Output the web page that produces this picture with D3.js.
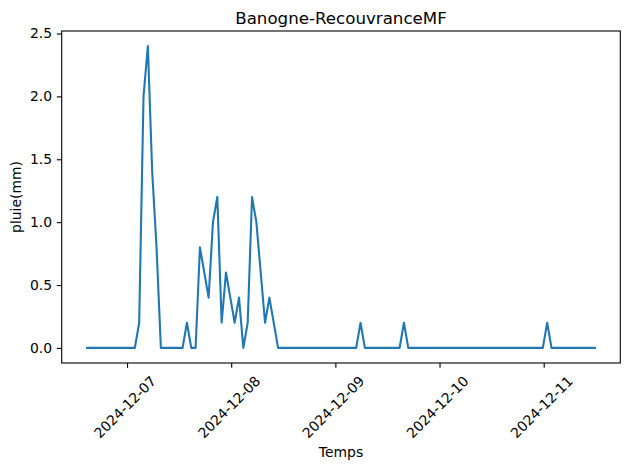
<!DOCTYPE html>
<html>
<head>
<meta charset="utf-8">
<script src="https://cdn.jsdelivr.net/npm/d3@7"></script>
<style>
  body { margin: 0; background: #fff; }
  svg { display: block; font-family: 'DejaVu Sans', sans-serif; }
</style>
</head>
<body>
<div id="chart"></div>
<script>
// hourly rain (mm), first reading 2024-12-06 14:48 UTC
const startTime = '2024-12-06T14:48:00Z';
const stepHours = 1;
const rain = [
  0, 0, 0, 0, 0, 0, 0, 0, 0, 0, 0, 0,
  0.2, 2.0, 2.4, 1.4, 0.8, 0,
  0, 0, 0, 0, 0,
  0.2, 0, 0,
  0.8, 0.6, 0.4, 1.0, 1.2, 0.2, 0.6, 0.4, 0.2, 0.4, 0,
  0.2, 1.2, 1.0, 0.6, 0.2, 0.4, 0.2, 0,
  0, 0, 0, 0, 0, 0, 0, 0, 0, 0, 0, 0, 0, 0, 0, 0, 0, 0,
  0.2,
  0, 0, 0, 0, 0, 0, 0, 0, 0,
  0.2,
  0, 0, 0, 0, 0, 0, 0, 0, 0, 0, 0, 0, 0, 0, 0, 0,
  0, 0, 0, 0, 0, 0, 0, 0, 0, 0, 0, 0, 0, 0, 0, 0,
  0.2,
  0, 0, 0, 0, 0, 0, 0, 0, 0, 0, 0
];
const xTicks = ['2024-12-07', '2024-12-08', '2024-12-09', '2024-12-10', '2024-12-11'];
const yTicks = [0, 0.5, 1.0, 1.5, 2.0, 2.5];
const title = 'Banogne-RecouvranceMF';
const xLabel = 'Temps';
const yLabel = 'pluie(mm)';

const width = 630;
const height = 469;
const margin = { t: 31, r: 9.7, b: 106, l: 61.7 };
const W = width - margin.l - margin.r;
const H = height - margin.t - margin.b;
const tickLen = 4.86;
const fontSize = 13.9;

const t0 = new Date(startTime);
const data = rain.map((v, i) => ({ t: d3.utcHour.offset(t0, i * stepHours), v }));

// matplotlib style 5% margins
function pad(ext) {
  const d = (ext[1] - ext[0]) * 0.05;
  return [ext[0] - d, ext[1] + d];
}
const tExt = d3.extent(data, d => +d.t);
const scaleX = d3.scaleUtc()
  .domain(pad(tExt).map(v => new Date(v)))
  .range([0, W]);
const scaleY = d3.scaleLinear()
  .domain(pad(d3.extent(data, d => d.v)))
  .range([H, 0]);

const svg = d3.select('#chart').append('svg')
  .attr('width', width)
  .attr('height', height);

svg.append('rect')
  .attr('width', width)
  .attr('height', height)
  .attr('fill', '#fff');

const g = svg.append('g')
  .attr('transform', `translate(${margin.l}, ${margin.t})`);

// line
const line = d3.line()
  .x(d => scaleX(d.t))
  .y(d => scaleY(d.v));

g.append('path')
  .datum(data)
  .attr('fill', 'none')
  .attr('stroke', '#1f77b4')
  .attr('stroke-width', 2.08)
  .attr('stroke-linejoin', 'round')
  .attr('stroke-linecap', 'square')
  .attr('d', line);

// axes
const xAxis = d3.axisBottom(scaleX)
  .tickValues(xTicks.map(s => new Date(s + 'T00:00:00Z')))
  .tickFormat(d3.utcFormat('%Y-%m-%d'))
  .tickSize(tickLen)
  .tickSizeOuter(0)
  .tickPadding(tickLen);

const yAxis = d3.axisLeft(scaleY)
  .tickValues(yTicks)
  .tickFormat(d3.format('.1f'))
  .tickSize(tickLen)
  .tickSizeOuter(0)
  .tickPadding(tickLen);

const gx = g.append('g')
  .attr('transform', `translate(0, ${H})`)
  .call(xAxis);

gx.selectAll('text')
  .attr('y', null)
  .attr('dy', '0.35em')
  .attr('text-anchor', 'middle')
  .attr('transform', 'translate(-2.5, 44) rotate(-45)');

const gy = g.append('g')
  .call(yAxis);

[gx, gy].forEach(a => {
  a.select('.domain').remove();
  a.attr('font-family', null).attr('font-size', fontSize);
  a.selectAll('text').attr('fill', '#000');
  a.selectAll('line').attr('stroke', '#000').attr('stroke-width', 1.1);
});

// spines
g.append('rect')
  .attr('width', W)
  .attr('height', H)
  .attr('fill', 'none')
  .attr('stroke', '#000')
  .attr('stroke-width', 1.1);

// labels
svg.append('text')
  .attr('x', margin.l + W / 2)
  .attr('y', 24)
  .attr('text-anchor', 'middle')
  .attr('font-size', 16.67)
  .text(title);

svg.append('text')
  .attr('x', margin.l + W / 2)
  .attr('y', 457)
  .attr('text-anchor', 'middle')
  .attr('font-size', fontSize)
  .text(xLabel);

svg.append('text')
  .attr('transform', `translate(21, ${margin.t + H / 2}) rotate(-90)`)
  .attr('text-anchor', 'middle')
  .attr('font-size', fontSize)
  .text(yLabel);
</script>
</body>
</html>
